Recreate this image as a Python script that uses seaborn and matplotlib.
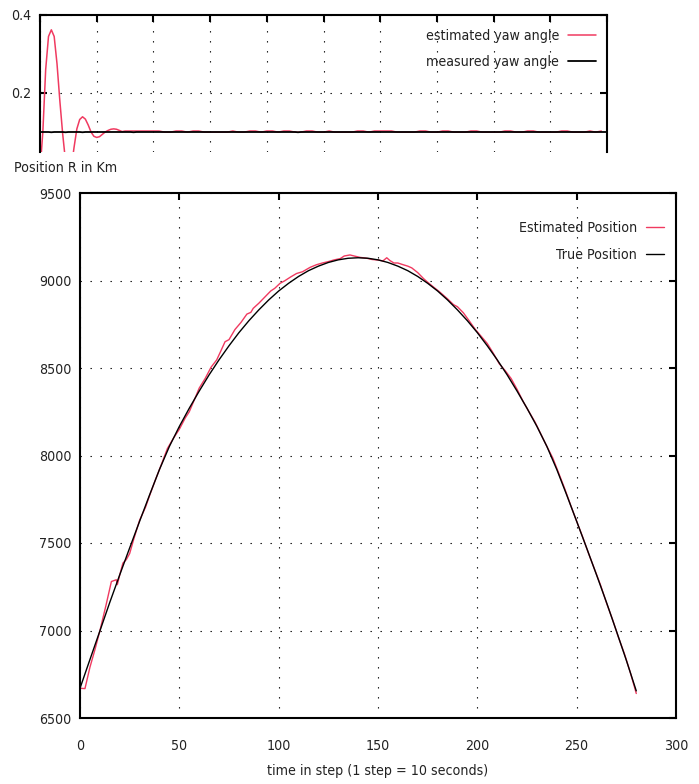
import matplotlib
matplotlib.use("Agg")
import matplotlib.pyplot as plt
import seaborn as sns

# ---------------- data ----------------
# bottom panel: position R (km) vs time step
step_true = list(range(0, 281, 5))
pos_true = [6670, 6834, 6997, 7161, 7318, 7472, 7624, 7774, 7920, 8052,
            8166, 8270, 8368, 8461, 8547, 8627, 8702, 8770, 8832, 8889,
            8940, 8984, 9023, 9056, 9082, 9103, 9118, 9127, 9130, 9127,
            9118, 9103, 9082, 9056, 9023, 8984, 8940, 8889, 8832, 8770,
            8702, 8627, 8547, 8461, 8368, 8270, 8166, 8052, 7920, 7774,
            7624, 7472, 7318, 7161, 6997, 6830, 6655]

step_est = [0, 2.5, 5, 7.5, 10, 13, 15.8, 18.3, 18.8, 20, 21.6, 23.3, 25, 27,
            30, 33, 35, 38, 41, 44, 47, 50, 53, 55, 58, 60, 63, 66, 68.8, 71,
            73, 75, 78, 81, 84, 86, 87.2, 90, 93, 96, 98, 100.7, 103, 106, 109,
            112, 115.8, 119, 122, 125, 128, 131, 133, 135.9, 138, 141, 144, 147,
            150, 152.5, 154.4, 156, 158, 160, 162.7, 165, 167, 170, 173, 175,
            178, 181, 185, 188, 190, 193, 196, 199, 202, 205, 208, 211, 214,
            217, 220, 223, 226, 229, 232, 235, 238, 241, 244, 247, 250, 253,
            256, 259, 262, 265, 268, 271, 274, 277, 279.4, 280]
pos_est = [6670, 6668, 6790, 6890, 6998, 7140, 7280, 7290, 7262, 7318, 7385,
           7405, 7440, 7520, 7630, 7705, 7770, 7862, 7950, 8040, 8098, 8150,
           8215, 8250, 8330, 8385, 8440, 8505, 8546, 8600, 8650, 8662, 8720,
           8760, 8808, 8818, 8841, 8870, 8905, 8940, 8955, 8984, 8998, 9020,
           9040, 9050, 9075, 9090, 9100, 9108, 9118, 9125, 9140, 9146, 9140,
           9132, 9128, 9120, 9117, 9112, 9130, 9114, 9100, 9100, 9090, 9082,
           9072, 9045, 9010, 8990, 8962, 8935, 8895, 8862, 8850, 8815, 8768,
           8720, 8680, 8640, 8585, 8525, 8485, 8440, 8378, 8310, 8250, 8192,
           8122, 8052, 7985, 7898, 7810, 7715, 7624, 7535, 7440, 7350, 7260,
           7158, 7065, 6962, 6868, 6760, 6665, 6640]

# top panel: yaw angle (cropped in the original)
yaw_step_est = [0, 0.5, 1.0, 1.5, 2.0, 2.5, 3.0, 3.5, 4.0, 4.5, 5.0, 5.5, 6.0,
                6.5, 7.0, 7.5, 8.0, 8.5, 9.0, 9.5, 10.0, 10.5, 11.0, 11.5,
                12.0, 12.5, 13.0, 13.5, 14.0, 14.5] + list(range(15, 100))
yaw_est = [0.00, 0.10, 0.26, 0.345, 0.362, 0.345, 0.275, 0.18, 0.095, 0.025,
           -0.02, 0.005, 0.06, 0.108, 0.132, 0.139, 0.133, 0.118, 0.100,
           0.089, 0.086, 0.088, 0.094, 0.100, 0.104, 0.107, 0.108, 0.107,
           0.104, 0.101,
           0.1025, 0.1025, 0.1025, 0.1025, 0.1025, 0.1025, 0.1025, 0.0995,
           0.0995, 0.1025, 0.1025, 0.0995, 0.1025, 0.1025, 0.0995, 0.0995,
           0.0995, 0.0995, 0.0995, 0.1025, 0.0995, 0.0995, 0.1025, 0.1025,
           0.0995, 0.1025, 0.1025, 0.0995, 0.1025, 0.1025, 0.0995, 0.0995,
           0.1025, 0.1025, 0.0995, 0.0995, 0.1025, 0.0995, 0.0995, 0.0995,
           0.0995, 0.1025, 0.1025, 0.0995, 0.1025, 0.1025, 0.1025, 0.1025,
           0.0995, 0.0995, 0.0995, 0.0995, 0.1025, 0.1025, 0.0995, 0.0995,
           0.1025, 0.1025, 0.0995, 0.0995, 0.0995, 0.1025, 0.1025, 0.0995,
           0.0995, 0.0995, 0.0995, 0.1025, 0.1025, 0.0995, 0.0995, 0.1025,
           0.1025, 0.0995, 0.0995, 0.0995, 0.0995, 0.1025, 0.1025, 0.0995,
           0.0995, 0.0995, 0.1025, 0.0995, 0.1025]
yaw_step_meas = [0, 1.5, 2, 2.5, 4, 4.5, 5, 7, 7.5, 8, 10, 16, 16.5, 17, 30,
                 45, 45.5, 46, 60, 75, 90, 100]
yaw_meas = [0.1, 0.1, 0.0993, 0.1, 0.1, 0.0993, 0.1, 0.1, 0.0993, 0.1, 0.1,
            0.1, 0.0993, 0.1, 0.1, 0.1, 0.0993, 0.1, 0.1, 0.1, 0.1, 0.1]

pos_xticks = [0, 50, 100, 150, 200, 250, 300]
pos_yticks = [6500, 7000, 7500, 8000, 8500, 9000, 9500]
yaw_yticks = [0.2, 0.4]
yaw_ytick_labels = ["0.2", "0.4"]

# ---------------- style ----------------
sns.set_style("white")
plt.rcParams["font.family"] = ["DejaVu Sans"]
plt.rcParams["font.stretch"] = "condensed"
FS = 10.2
plt.rcParams["font.size"] = FS

RED = "#f03a60"
TXT = "#222222"
GRID = dict(color="black", linestyle=(0, (1.2, 7.8)), linewidth=0.8)

fig = plt.figure(figsize=(6.99, 7.84), dpi=100)
W, H = 699, 784
ax_top = fig.add_axes([40 / W, 1 - 152 / H, 567 / W, 137 / H])
ax = fig.add_axes([80 / W, 1 - 718 / H, 596 / W, 525 / H])

# ---- top panel ----
sns.lineplot(x=yaw_step_est, y=yaw_est, ax=ax_top, color=RED, linewidth=1.1,
             label="estimated yaw angle", sort=False, estimator=None)
sns.lineplot(x=yaw_step_meas, y=yaw_meas, ax=ax_top, color="black",
             linewidth=1.3, label="measured yaw angle", sort=False,
             estimator=None)
ax_top.set_xlim(0, 100)
ax_top.set_ylim(0.0487, 0.4)
ax_top.set_xticks(range(0, 101, 10))
ax_top.set_yticks(yaw_yticks)
ax_top.set_yticklabels(yaw_ytick_labels)
ax_top.grid(True, **GRID)
ax_top.spines["bottom"].set_visible(False)
for s in ("top", "left", "right"):
    ax_top.spines[s].set_linewidth(1.5)
    ax_top.spines[s].set_color("black")
ax_top.tick_params(direction="in", length=5, width=1.5, top=True, right=True,
                   bottom=False, left=True, labelbottom=False, pad=6,
                   labelsize=FS, color="black", labelcolor=TXT)
ax_top.set_xlabel("")
ax_top.set_ylabel("")
ax_top.legend(loc="upper right", bbox_to_anchor=(0.981, 0.897),
              markerfirst=False, frameon=False, borderpad=0,
              borderaxespad=0, handlelength=2.0, handletextpad=0.62,
              labelspacing=0.85, fontsize=FS, labelcolor=TXT)

# ---- bottom panel ----
sns.lineplot(x=step_est, y=pos_est, ax=ax, color=RED, linewidth=1.0,
             label="Estimated Position", sort=False, estimator=None)
sns.lineplot(x=step_true, y=pos_true, ax=ax, color="black", linewidth=1.0,
             label="True Position", sort=False, estimator=None)
ax.set_xlim(0, 300)
ax.set_ylim(6500, 9500)
ax.set_xticks(pos_xticks)
ax.set_yticks(pos_yticks)
ax.grid(True, **GRID)
for s in ax.spines.values():
    s.set_linewidth(1.5)
    s.set_color("black")
ax.tick_params(direction="in", length=5, width=1.5, top=True, right=True,
               labelsize=FS, color="black", labelcolor=TXT)
ax.tick_params(axis="x", pad=15)
ax.tick_params(axis="y", pad=6)
ax.set_xlabel("time in step (1 step = 10 seconds)", fontsize=FS, labelpad=8,
              color=TXT)
ax.set_ylabel("")
ax.legend(loc="upper right", bbox_to_anchor=(0.980, 0.947),
          markerfirst=False, frameon=False, borderpad=0, borderaxespad=0,
          handlelength=1.3, handletextpad=0.62, labelspacing=0.9,
          fontsize=FS, labelcolor=TXT)

fig.text(14 / W, 1 - 168 / H, "Position R in Km", ha="left", va="center",
         fontsize=FS, color=TXT)

fig.savefig("out.png", dpi=100)
